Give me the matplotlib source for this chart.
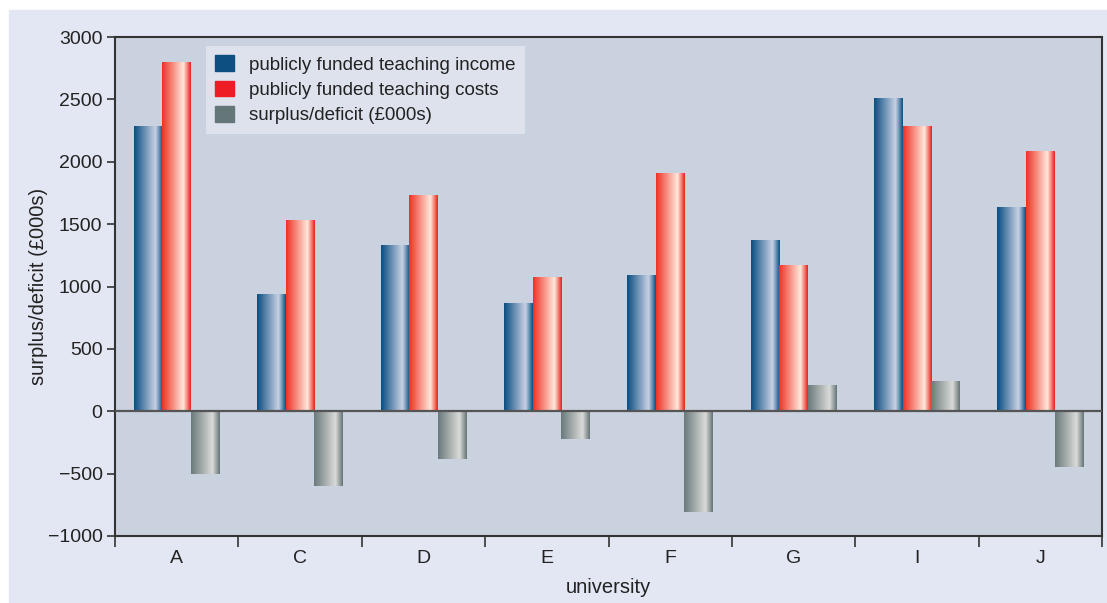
import numpy as np
import matplotlib.pyplot as plt
from matplotlib.colors import LinearSegmentedColormap
from matplotlib.patches import Rectangle

universities = ['A', 'C', 'D', 'E', 'F', 'G', 'I', 'J']
income = [2290, 940, 1330, 870, 1095, 1370, 2515, 1640]
costs = [2800, 1535, 1730, 1078, 1912, 1175, 2285, 2090]
surplus = [-505, -600, -380, -225, -805, 210, 240, -445]
series_names = ['publicly funded teaching income',
                'publicly funded teaching costs',
                'surplus/deficit (£000s)']

plt.rcParams['font.family'] = ['Liberation Sans Narrow', 'Liberation Sans', 'DejaVu Sans']

fig = plt.figure(figsize=(11.07, 6.03), dpi=100)
fig.patch.set_facecolor('white')
# light panel behind the whole chart
fig.patches.append(Rectangle((9 / 1107, 0), 1 - 9 / 1107, 1 - 10 / 603,
                             transform=fig.transFigure, color='#e3e7f3', zorder=-10))

ax = fig.add_axes([115 / 1107, 1 - 536 / 603, (1102 - 115) / 1107, (536 - 37) / 603])
ax.set_facecolor('#cbd2df')

def grad_cmap(dark, light, dark2):
    return LinearSegmentedColormap.from_list('g', [(0, dark), (0.75, light), (1, dark2)])

cmaps = [grad_cmap('#0b4f82', '#c9d1e4', '#0d5285'),
         grad_cmap('#ef3225', '#ffe9dc', '#e8251e'),
         grad_cmap('#6b7a7c', '#dadbd8', '#667577')]
solid = ['#0d4f80', '#ee1c25', '#647677']

x = np.arange(len(universities))
w = 0.232
grad = np.linspace(0, 1, 64).reshape(1, -1)
for k, vals in enumerate([income, costs, surplus]):
    bars = ax.bar(x + (k - 1) * w, vals, width=w, color='none', edgecolor='none',
                  label=series_names[k], zorder=2)
    for b in bars:
        x0 = b.get_x()
        y0 = b.get_y()
        h = b.get_height()
        im = ax.imshow(grad, cmap=cmaps[k], aspect='auto', interpolation='bilinear',
                       extent=(x0, x0 + b.get_width(), min(y0, y0 + h), max(y0, y0 + h)),
                       zorder=2)
        im.set_clip_path(b)

ax.axhline(0, color='#555555', lw=1.6, zorder=3)
ax.set_xlim(-0.5, len(universities) - 0.5)
ax.set_ylim(-1000, 3000)
ax.set_yticks(np.arange(-1000, 3001, 500))
ax.set_yticklabels([str(v).replace('-', '\u2212') for v in range(-1000, 3001, 500)])

ax.set_xticks(np.arange(-0.5, len(universities), 1))
ax.set_xticklabels([])
ax.set_xticks(x, minor=True)
ax.set_xticklabels(universities, minor=True)
ax.tick_params(axis='x', which='major', length=8, width=1.2, color='#333333')
ax.tick_params(axis='x', which='minor', length=0, pad=10, labelsize=14, labelcolor='#222222')
ax.tick_params(axis='y', length=6, width=1.2, color='#333333', labelsize=14,
               labelcolor='#222222', pad=3)

for s in ax.spines.values():
    s.set_color('#333333')
    s.set_linewidth(1.5)

ax.set_ylabel('surplus/deficit (£000s)', fontsize=14.5, color='#222222', labelpad=0)
ax.set_xlabel('university', fontsize=14.5, color='#222222', labelpad=8)

handles = [Rectangle((0, 0), 1, 1, color=c) for c in solid]
leg = ax.legend(handles, series_names, loc='upper left', bbox_to_anchor=(0.092, 0.982),
                borderaxespad=0, fontsize=13.5, frameon=True, fancybox=False, framealpha=1,
                handlelength=1.0, handleheight=0.9, handletextpad=0.8,
                labelspacing=0.38, borderpad=0.5, labelcolor='#222222')
leg.get_frame().set_facecolor('#dde2ed')
leg.get_frame().set_edgecolor('none')

fig.savefig('out.png', dpi=100)
